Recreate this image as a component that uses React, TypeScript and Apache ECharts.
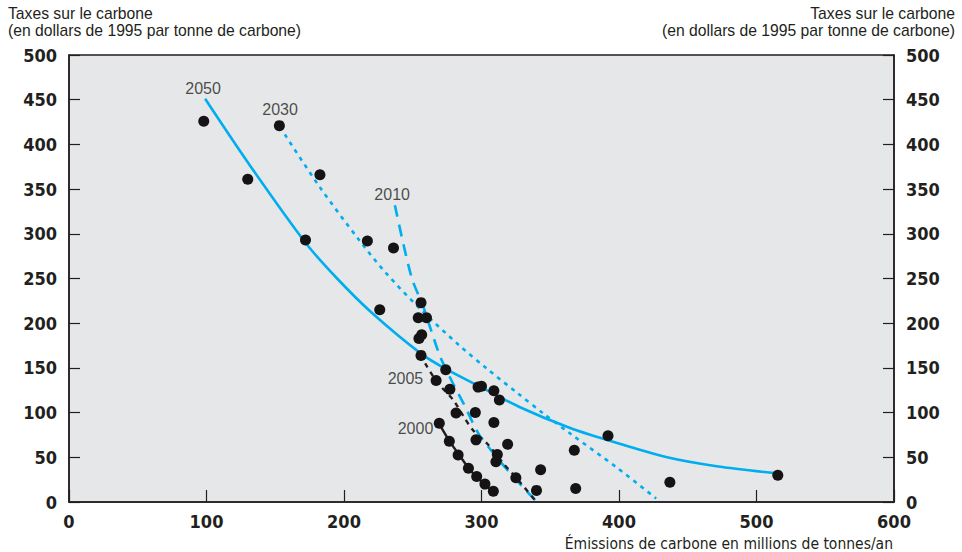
import React, { useEffect, useRef } from "react";
import * as echarts from "echarts";

// Emissions (x, millions of tonnes/an) vs carbon tax (y, $1995 per tonne)
const dots: [number, number][] = [
  [98, 426], [130, 361], [172, 293], [153, 421], [182.5, 366], [217, 292],
  [236, 284], [226, 215], [256, 223], [254, 206], [260, 206], [254.5, 183],
  [256.5, 187], [256, 164], [274, 148], [267, 136], [277, 126], [297.5, 128.5],
  [300, 129.5], [309, 124.5], [313, 114], [281.5, 99.5], [295.5, 100], [309, 89],
  [269.3, 88], [276.6, 68], [296, 69.5], [319, 64.5], [283, 52.6], [311.5, 53],
  [310.5, 45], [290.5, 37.7], [296.5, 28.5], [302.5, 20], [308.6, 12], [325, 27],
  [343, 36], [340, 13], [367.5, 58], [392, 74], [368.5, 15], [437, 22], [515.5, 30],
];

const line2050: [number, number][] = [
  [99, 451], [130, 380], [172, 290], [195, 250], [220, 212], [256, 166],
  [275, 148], [299, 129], [328, 106], [364, 83], [392, 69], [435, 50],
  [471, 40], [515, 32],
];
const line2030: [number, number][] = [
  [157, 411], [182.5, 352], [210, 295], [230, 257], [256, 215], [284, 175],
  [304, 149], [326, 122], [345, 99], [365, 76], [398, 39], [427, 4],
];
const line2010: [number, number][] = [
  [237, 332], [249, 252], [257.7, 218.5], [262.5, 196], [270, 162.5], [278, 136.5],
  [287, 110], [298, 76], [309, 54], [321, 32], [339, 2],
];
const line2005: [number, number][] = [
  [259, 155], [267.5, 134.5], [279.5, 114], [287, 95.5], [294, 80], [304, 65.5],
  [316, 43], [325.6, 26.5], [339, 2],
];
const line2000: [number, number][] = [
  [269, 88], [277, 67.5], [284.5, 51], [291.6, 36], [299, 24.5], [308.6, 11.5],
];

const curveLabels: [string, number, number][] = [
  ["2050", 97.5, 463],
  ["2030", 153.5, 438.5],
  ["2010", 235, 343.5],
  ["2005", 244.7, 137.6],
  ["2000", 252, 81.7],
];

const yTitle = "Taxes sur le carbone\n(en dollars de 1995 par tonne de carbone)";
const xTitle = "Émissions de carbone en millions de tonnes/an";

const BLUE = "#00aeef";
const INK = "#231f20";
const DOT = "#151314";
const TICK_FONT = '"Liberation Sans Narrow", "DejaVu Sans Condensed", "Arial Narrow", sans-serif';
const TEXT_FONT = '"Liberation Sans", Arial, Helvetica, sans-serif';

export default function App() {
  const ref = useRef<HTMLDivElement>(null);
  useEffect(() => {
    if (!ref.current) return;
    const chart = echarts.init(ref.current, null, { renderer: "svg" });
    const tickLabel = {
      fontFamily: TICK_FONT,
      fontWeight: "bold" as const,
      fontSize: 18,
      color: INK,
    };
    const yAxisBase = {
      type: "value" as const,
      min: 0,
      max: 500,
      interval: 50,
      axisLine: { show: true, lineStyle: { color: INK, width: 1.5 } },
      axisTick: { show: true, inside: true, length: 11, lineStyle: { color: INK, width: 1.2 } },
      splitLine: { show: false },
      axisLabel: { ...tickLabel, margin: 12 },
    };
    const lineBase = { showSymbol: false, z: 2 };
    chart.setOption({
      animation: false,
      grid: {
        left: 69,
        right: 68,
        top: 55,
        bottom: 50,
        show: true,
        backgroundColor: "#e6e7e8",
        borderColor: INK,
        borderWidth: 1.5,
      },
      xAxis: {
        type: "value",
        min: 0,
        max: 600,
        interval: 100,
        axisLine: { show: true, onZero: false, lineStyle: { color: INK, width: 1.5 } },
        axisTick: { show: true, inside: true, length: 12, lineStyle: { color: INK, width: 1.2 } },
        splitLine: { show: false },
        axisLabel: { ...tickLabel, margin: 10 },
      },
      yAxis: [
        { ...yAxisBase, position: "left" },
        { ...yAxisBase, position: "right" },
      ],
      graphic: [
        {
          type: "text",
          left: 8,
          top: 5,
          style: { text: yTitle, font: `15.7px ${TEXT_FONT}`, fill: INK, lineHeight: 17, textAlign: "left" },
        },
        {
          type: "text",
          right: 7,
          top: 5,
          style: { text: yTitle, font: `15.7px ${TEXT_FONT}`, fill: INK, lineHeight: 17, textAlign: "right" },
        },
        {
          type: "text",
          right: 69,
          top: 536,
          style: { text: xTitle, font: `15.5px ${TICK_FONT}`, fill: INK },
        },
      ],
      series: [
        {
          ...lineBase,
          type: "line",
          data: line2050,
          smooth: 0.3,
          lineStyle: { color: BLUE, width: 2.6, type: "solid" },
        },
        {
          ...lineBase,
          type: "line",
          data: line2030,
          smooth: 0.3,
          lineStyle: { color: BLUE, width: 2.6, type: [4, 5] },
        },
        {
          ...lineBase,
          type: "line",
          data: line2010,
          smooth: 0.3,
          lineStyle: { color: BLUE, width: 2.6, type: [12, 8] },
        },
        {
          ...lineBase,
          type: "line",
          data: line2005,
          smooth: 0.3,
          lineStyle: { color: INK, width: 2.4, type: [5, 5] },
        },
        {
          ...lineBase,
          type: "line",
          data: line2000,
          smooth: 0.3,
          lineStyle: { color: INK, width: 2.4, type: "solid" },
        },
        {
          type: "scatter",
          data: dots,
          symbol: "circle",
          symbolSize: 11,
          itemStyle: { color: DOT, opacity: 1 },
          z: 5,
        },
        {
          type: "scatter",
          data: curveLabels.map(([name, x, y]) => ({ name, value: [x, y] })),
          symbolSize: 1,
          itemStyle: { color: "transparent" },
          label: {
            show: true,
            position: "inside",
            formatter: (p: any) => p.name,
            fontFamily: TEXT_FONT,
            fontSize: 16,
            color: INK,
          },
          z: 6,
        },
      ],
    });
    return () => chart.dispose();
  }, []);
  return (
    <div
      ref={ref}
      style={{ position: "fixed", left: 0, top: 0, width: 962, height: 552, background: "#fff" }}
    />
  );
}
